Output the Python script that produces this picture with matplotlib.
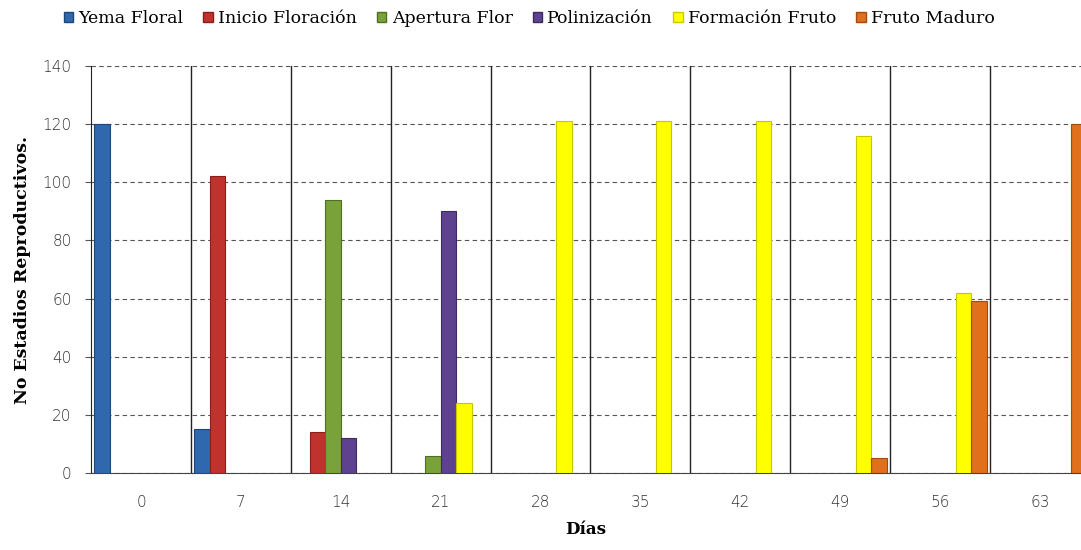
import matplotlib.pyplot as plt
import numpy as np
from matplotlib.patches import Patch

dias = ["0", "7", "14", "21", "28", "35", "42", "49", "56", "63"]
series = ["Yema Floral", "Inicio Floración", "Apertura Flor",
          "Polinización", "Formación Fruto", "Fruto Maduro"]
yema = [120, 15, 0, 0, 0, 0, 0, 0, 0, 0]
inicio = [0, 102, 14, 0, 0, 0, 0, 0, 0, 0]
apertura = [0, 0, 94, 6, 0, 0, 0, 0, 0, 0]
polinizacion = [0, 0, 12, 90, 0, 0, 0, 0, 0, 0]
formacion = [0, 0, 0, 24, 121, 121, 121, 116, 62, 0]
maduro = [0, 0, 0, 0, 0, 0, 0, 5, 59, 120]

colors = ["#2F68AE", "#C0322E", "#7AA23A", "#5E4290", "#FFFF00", "#E0701C"]
edges = ["#1C4578", "#8A1E1B", "#526E22", "#3C2A60", "#C8C800", "#A04B10"]

plt.rcParams["font.family"] = ["DejaVu Serif"]

fig = plt.figure(figsize=(10.81, 5.5), dpi=100)
ax = fig.add_axes([91 / 1081, 1 - 473 / 550, 990 / 1081, 407 / 550])

x = np.arange(len(dias))
w = 0.155
data = [yema, inicio, apertura, polinizacion, formacion, maduro]
for i, vals in enumerate(data):
    vals = np.array(vals)
    m = vals > 0
    ax.bar(x[m] + (i - 2.5) * w, vals[m], width=w, color=colors[i],
           edgecolor=edges[i], linewidth=0.8, zorder=3)

ax.set_ylim(0, 140)
ax.set_yticks(range(0, 141, 20))
ax.set_xlim(-0.5, 9.41)
ax.set_xticks(x)
ax.set_xticklabels(dias)
for lbl in ax.get_xticklabels() + ax.get_yticklabels():
    lbl.set_fontfamily(["DejaVu Sans"])
    lbl.set_fontsize(11)
    lbl.set_fontweight("light")
    lbl.set_color("#333333")
ax.tick_params(axis="x", length=0, pad=16)
ax.tick_params(axis="y", length=4, pad=10, color="#555555")

ax.yaxis.grid(True, linestyle=(0, (4, 3)), color="#555555", linewidth=0.8)
for b in np.arange(0.5, 9.5, 1):
    ax.axvline(b, color="#222222", linewidth=1, zorder=2)
ax.set_axisbelow(True)
for s in ["top", "right"]:
    ax.spines[s].set_visible(False)
ax.spines["left"].set_color("#222222")
ax.spines["bottom"].set_color("#444444")

ax.set_ylabel("No Estadios Reproductivos.", fontsize=12.5, fontweight="bold", labelpad=8)
ax.set_xlabel("Días", fontsize=12, fontweight="bold", labelpad=8)

handles = [Patch(facecolor=c, edgecolor=e) for c, e in zip(colors, edges)]
fig.legend(handles, series, loc="upper left", bbox_to_anchor=(48 / 1081, 1.01),
           ncol=6, frameon=False, fontsize=12.5, handlelength=0.55,
           handleheight=0.55, handletextpad=0.3, columnspacing=1.15)

fig.savefig("out.png", dpi=100)
